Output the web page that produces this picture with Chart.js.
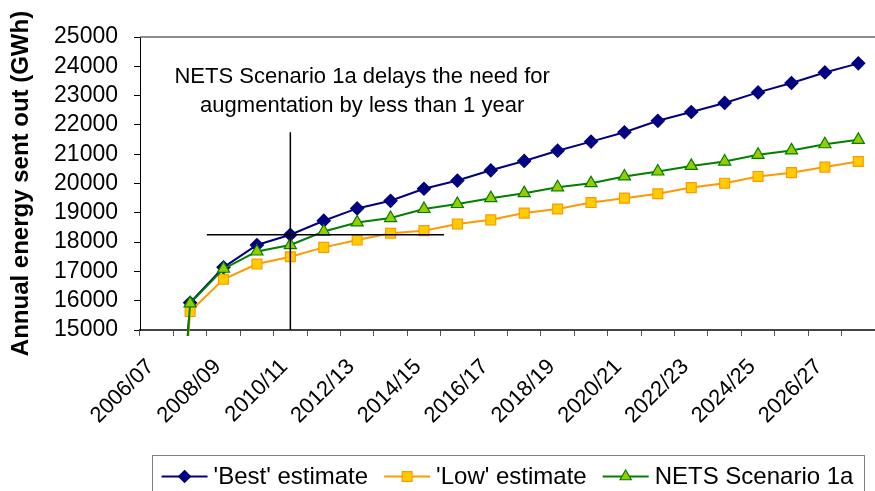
<!DOCTYPE html>
<html>
<head>
<meta charset="utf-8">
<script src="https://cdn.jsdelivr.net/npm/chart.js@4/dist/chart.umd.min.js"></script>
<style>
  html, body { margin: 0; padding: 0; background: #fff; overflow: hidden; }
  #wrap { position: relative; width: 875px; height: 491px; }
</style>
</head>
<body>
<div id="wrap"><canvas id="energy" width="875" height="491"></canvas></div>
<script>
// Financial years on the horizontal axis
const categories = [
  '2006/07', '2007/08', '2008/09', '2009/10', '2010/11', '2011/12',
  '2012/13', '2013/14', '2014/15', '2015/16', '2016/17', '2017/18',
  '2018/19', '2019/20', '2020/21', '2021/22', '2022/23', '2023/24',
  '2024/25', '2025/26', '2026/27', '2027/28'
];

// Years that carry a printed label
const tickLabels = [
  '2006/07', '2008/09', '2010/11', '2012/13', '2014/15', '2016/17',
  '2018/19', '2020/21', '2022/23', '2024/25', '2026/27'
];

// Annual energy sent out (GWh)
const bestEstimate = [
  0, 15930, 17140, 17900, 18250, 18730, 19150, 19410, 19820, 20100, 20450,
  20770, 21120, 21430, 21750, 22140, 22440, 22750, 23110, 23430, 23790, 24100
];
const lowEstimate = [
  0, 15630, 16730, 17250, 17500, 17820, 18070, 18300, 18390, 18620, 18760,
  18990, 19130, 19350, 19500, 19650, 19860, 20010, 20240, 20370, 20560, 20750
];
const netsScenario1a = [
  0, 15910, 17090, 17680, 17900, 18360, 18670, 18820, 19130, 19300, 19500,
  19670, 19870, 20010, 20240, 20410, 20600, 20750, 20980, 21130, 21340, 21490
];

const seriesNames = ["'Best' estimate", "'Low' estimate", 'NETS Scenario 1a'];
const yRange = [15000, 25000];
const yStep = 1000;

// Callout: year when augmentation is needed and the demand level it is read at
const calloutYear = '2010/11';
const calloutLevel = bestEstimate[categories.indexOf(calloutYear)];
const calloutTop = 21750;
const calloutSpan = [1.5, 8.6];
const noteLines = ['NETS Scenario 1a delays the need for', 'augmentation by less than 1 year'];
const noteAnchor = { x: 6.15, y: [23440, 22450] };

const FONT = '"Liberation Sans", Arial, Helvetica, sans-serif';
Chart.defaults.font.family = FONT;
Chart.defaults.color = '#000';

const styles = [
  { line: '#000080', fill: '#000080', shape: 'rectRot', r: 6.5, legendR: 6 },
  { line: '#FF9900', fill: '#FFCC00', shape: 'rect', r: 7, legendR: 7 },
  { line: '#008000', fill: '#99CC00', shape: 'triangle', r: 7, legendR: 6.5 }
];

function markerPath(ctx, shape, x, y, r) {
  ctx.beginPath();
  if (shape === 'rectRot') {
    ctx.moveTo(x, y - r); ctx.lineTo(x + r, y); ctx.lineTo(x, y + r); ctx.lineTo(x - r, y);
  } else if (shape === 'rect') {
    const h = r * Math.SQRT1_2;
    ctx.rect(x - h, y - h, 2 * h, 2 * h);
  } else {
    ctx.moveTo(x, y - r);
    ctx.lineTo(x + r * Math.sin(Math.PI * 2 / 3), y + r / 2);
    ctx.lineTo(x - r * Math.sin(Math.PI * 2 / 3), y + r / 2);
  }
  ctx.closePath();
}

// Plot frame top edge plus the callout cross-hair and its note
const calloutPlugin = {
  id: 'callout',
  afterDatasetsDraw(chart) {
    const { ctx, chartArea, scales: { x, y } } = chart;
    ctx.save();
    ctx.strokeStyle = '#666';
    ctx.lineWidth = 1.5;
    ctx.beginPath();
    ctx.moveTo(chartArea.left, chartArea.top);
    ctx.lineTo(chartArea.right, chartArea.top);
    ctx.stroke();

    ctx.strokeStyle = '#000';
    ctx.lineWidth = 1.5;
    const vx = x.getPixelForValue(categories.indexOf(calloutYear));
    ctx.beginPath();
    ctx.moveTo(vx, y.getPixelForValue(calloutTop));
    ctx.lineTo(vx, y.getPixelForValue(yRange[0]));
    const hy = y.getPixelForValue(calloutLevel);
    ctx.moveTo(x.getPixelForValue(calloutSpan[0]), hy);
    ctx.lineTo(x.getPixelForValue(calloutSpan[1]), hy);
    ctx.stroke();

    ctx.fillStyle = '#000';
    ctx.font = '22px ' + FONT;
    ctx.textAlign = 'center';
    ctx.textBaseline = 'alphabetic';
    const nx = x.getPixelForValue(noteAnchor.x);
    noteLines.forEach((t, i) => ctx.fillText(t, nx, y.getPixelForValue(noteAnchor.y[i])));
    ctx.restore();
  }
};

// Boxed legend with line-and-marker samples, centred under the plot
const legendPlugin = {
  id: 'boxLegend',
  afterDraw(chart) {
    const { ctx, chartArea } = chart;
    ctx.save();
    ctx.font = '24px ' + FONT;
    const sampleW = 46, textGap = 6, itemGap = 16;
    const widths = seriesNames.map(n => ctx.measureText(n).width);
    const total = widths.reduce((a, w) => a + sampleW + textGap + w, 0) + itemGap * (seriesNames.length - 1);
    const cx = (chartArea.left + chartArea.right) / 2;
    const boxW = total + 20;
    const boxTop = 455;
    ctx.strokeStyle = '#808080';
    ctx.lineWidth = 1;
    ctx.strokeRect(Math.round(cx - boxW / 2) + 0.5, boxTop + 0.5, Math.round(boxW), 60);

    let xPos = cx - total / 2;
    const yMid = 476.5;
    seriesNames.forEach((name, i) => {
      const s = styles[i];
      ctx.strokeStyle = s.line;
      ctx.lineWidth = 2;
      ctx.beginPath();
      ctx.moveTo(xPos, yMid);
      ctx.lineTo(xPos + sampleW, yMid);
      ctx.stroke();
      markerPath(ctx, s.shape, xPos + sampleW / 2, yMid, s.legendR);
      ctx.fillStyle = s.fill;
      ctx.fill();
      ctx.lineWidth = 1.2;
      ctx.stroke();
      ctx.fillStyle = '#000';
      ctx.textAlign = 'left';
      ctx.textBaseline = 'middle';
      ctx.fillText(name, xPos + sampleW + textGap, yMid + 1);
      xPos += sampleW + textGap + widths[i] + itemGap;
    });
    ctx.restore();
  }
};

const seriesData = [bestEstimate, lowEstimate, netsScenario1a];

new Chart(document.getElementById('energy'), {
  type: 'line',
  data: {
    labels: categories,
    datasets: seriesData.map((values, i) => ({
      label: seriesNames[i],
      data: values,
      borderColor: styles[i].line,
      backgroundColor: styles[i].fill,
      borderWidth: 2,
      pointStyle: styles[i].shape,
      pointRadius: styles[i].r,
      pointBorderColor: styles[i].line,
      pointBackgroundColor: styles[i].fill,
      pointBorderWidth: 1.2,
      tension: 0,
      order: seriesData.length - i,
      clip: { left: 1, top: 1, right: 1, bottom: 6 }
    }))
  },
  options: {
    responsive: false,
    animation: false,
    devicePixelRatio: 1,
    layout: { autoPadding: false, padding: { top: 37, right: 0, bottom: 0, left: 0 } },
    plugins: { legend: { display: false }, tooltip: { enabled: false } },
    scales: {
      x: {
        offset: true,
        grid: { offset: true, drawOnChartArea: false, drawTicks: true, tickLength: 6, tickColor: '#555' },
        border: { color: '#444', width: 2 },
        ticks: {
          autoSkip: false,
          minRotation: 45,
          maxRotation: 45,
          padding: 18,
          labelOffset: -6,
          color: '#000',
          font: { size: 22 },
          callback(v, i) { return tickLabels.includes(categories[i]) ? categories[i] : ''; }
        },
        afterFit(scale) {
          scale.height = 161;
          scale.paddingRight = 0;
        }
      },
      y: {
        min: yRange[0],
        max: yRange[1],
        grid: { drawOnChartArea: false, drawTicks: true, tickLength: 6, tickColor: '#000' },
        border: { color: '#000', width: 1 },
        ticks: {
          stepSize: yStep,
          autoSkip: false,
          padding: 16,
          color: '#000',
          font: { size: 23 },
          callback(v) { return String(v); }
        },
        title: {
          display: true,
          text: 'Annual energy sent out (GWh)',
          color: '#000',
          font: { size: 24, weight: 'bold' },
          padding: { top: 7, bottom: 0 }
        },
        afterFit(scale) { scale.width = 140; }
      }
    }
  },
  plugins: [calloutPlugin, legendPlugin]
});
</script>
</body>
</html>
